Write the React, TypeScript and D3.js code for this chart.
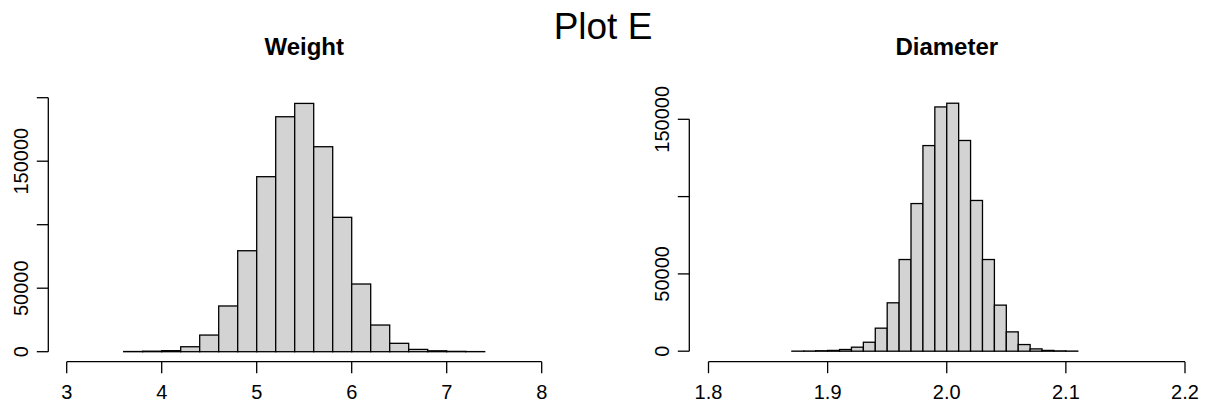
import React from "react";
import * as d3 from "d3";

// ---- Data ----
const weightBinStarts = [3.6, 3.8, 4.0, 4.2, 4.4, 4.6, 4.8, 5.0, 5.2, 5.4, 5.6, 5.8, 6.0, 6.2, 6.4, 6.6, 6.8, 7.0, 7.2];
const weightBinWidth = 0.2;
const weightCounts = [150, 400, 800, 3900, 13100, 36000, 79500, 137800, 185000, 195500, 161400, 105800, 53300, 21000, 6600, 1800, 700, 250, 80];
const weightXTicks = [3, 4, 5, 6, 7, 8];
const weightYTicks = [0, 50000, 100000, 150000, 200000];
const weightYLabels = ["0", "50000", "", "150000", ""];

const diameterBinStarts = [1.87, 1.88, 1.89, 1.90, 1.91, 1.92, 1.93, 1.94, 1.95, 1.96, 1.97, 1.98, 1.99, 2.00, 2.01, 2.02, 2.03, 2.04, 2.05, 2.06, 2.07, 2.08, 2.09, 2.10];
const diameterBinWidth = 0.01;
const diameterCounts = [50, 100, 300, 500, 1100, 2600, 5800, 14900, 31300, 59300, 95500, 133000, 158000, 160400, 136300, 97500, 59300, 29800, 12500, 4300, 1500, 500, 200, 80];
const diameterXTicks = [1.8, 1.9, 2.0, 2.1, 2.2];
const diameterXLabels = ["1.8", "1.9", "2.0", "2.1", "2.2"];
const diameterYTicks = [0, 50000, 100000, 150000];
const diameterYLabels = ["0", "50000", "", "150000"];

const FONT = "'Liberation Sans', Arial, Helvetica, sans-serif";

type PanelProps = {
  title: string;
  starts: number[];
  width: number;
  counts: number[];
  xTicks: number[];
  xLabels: string[];
  yTicks: number[];
  yLabels: string[];
  xDomain: [number, number];
  yMax: number;
  xRange: [number, number];
  yRange: [number, number];
  yAxisX: number;
  xAxisY: number;
};

function Panel(p: PanelProps) {
  const x = d3.scaleLinear().domain(p.xDomain).range(p.xRange);
  const y = d3.scaleLinear().domain([0, p.yMax]).range(p.yRange);
  const sw = 1.3;
  const tick = 11.5;
  const cx = (p.xRange[0] + p.xRange[1]) / 2;
  return (
    <g>
      <text x={cx} y={55} textAnchor="middle" fontFamily={FONT} fontWeight="bold" fontSize={24}>
        {p.title}
      </text>
      {p.counts.map((c, i) => (
        <rect
          key={i}
          x={x(p.starts[i])}
          y={y(c)}
          width={x(p.starts[i] + p.width) - x(p.starts[i])}
          height={y(0) - y(c)}
          fill="#d3d3d3"
          stroke="#000"
          strokeWidth={sw}
        />
      ))}
      {/* x axis */}
      <line x1={x(p.xTicks[0])} x2={x(p.xTicks[p.xTicks.length - 1])} y1={p.xAxisY} y2={p.xAxisY} stroke="#000" strokeWidth={sw} />
      {p.xTicks.map((t, i) => (
        <g key={i}>
          <line x1={x(t)} x2={x(t)} y1={p.xAxisY} y2={p.xAxisY + tick} stroke="#000" strokeWidth={sw} />
          <text x={x(t)} y={p.xAxisY + 37.5} textAnchor="middle" fontFamily={FONT} fontSize={20}>
            {p.xLabels[i]}
          </text>
        </g>
      ))}
      {/* y axis */}
      <line x1={p.yAxisX} x2={p.yAxisX} y1={y(p.yTicks[0])} y2={y(p.yTicks[p.yTicks.length - 1])} stroke="#000" strokeWidth={sw} />
      {p.yTicks.map((t, i) => (
        <g key={i}>
          <line x1={p.yAxisX} x2={p.yAxisX - tick} y1={y(t)} y2={y(t)} stroke="#000" strokeWidth={sw} />
          {p.yLabels[i] !== "" && (
            <text
              x={p.yAxisX - 20.5}
              y={y(t)}
              textAnchor="middle"
              fontFamily={FONT}
              fontSize={20}
              transform={`rotate(-90, ${p.yAxisX - 20.5}, ${y(t)})`}
            >
              {p.yLabels[i]}
            </text>
          )}
        </g>
      ))}
    </g>
  );
}

export default function App() {
  return (
    <svg width={1206} height={405} style={{ position: "absolute", left: 0, top: 0, background: "#fff" }}>
      <rect x={0} y={0} width={1206} height={405} fill="#fff" />
      <text x={603} y={38.5} textAnchor="middle" fontFamily={FONT} fontSize={37}>
        Plot E
      </text>
      <Panel
        title="Weight"
        starts={weightBinStarts}
        width={weightBinWidth}
        counts={weightCounts}
        xTicks={weightXTicks}
        xLabels={weightXTicks.map(String)}
        yTicks={weightYTicks}
        yLabels={weightYLabels}
        xDomain={[3, 8]}
        yMax={200000}
        xRange={[66.7, 541.7]}
        yRange={[351.7, 97.7]}
        yAxisX={48.3}
        xAxisY={361.7}
      />
      <Panel
        title="Diameter"
        starts={diameterBinStarts}
        width={diameterBinWidth}
        counts={diameterCounts}
        xTicks={diameterXTicks}
        xLabels={diameterXLabels}
        yTicks={diameterYTicks}
        yLabels={diameterYLabels}
        xDomain={[1.8, 2.2]}
        yMax={150000}
        xRange={[708.5, 1185]}
        yRange={[351.2, 119.3]}
        yAxisX={689.3}
        xAxisY={361.7}
      />
    </svg>
  );
}
